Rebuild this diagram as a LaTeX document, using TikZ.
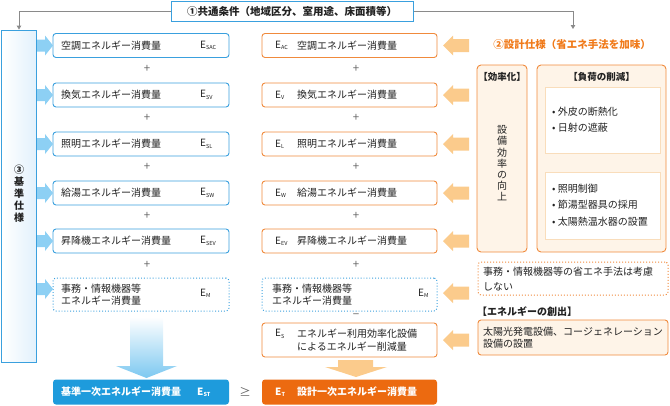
\documentclass[tikz,border=0pt]{standalone}
\usepackage{fontspec}
\setmainfont{Noto Sans CJK JP}
\usetikzlibrary{arrows.meta}
\definecolor{bblue}{HTML}{3AA0DE}
\definecolor{barrow}{HTML}{8DD0F4}
\definecolor{bdark}{HTML}{1E9BDC}
\definecolor{bpale}{HTML}{E2F1FC}
\definecolor{oline}{HTML}{F08A3C}
\definecolor{oarrow}{HTML}{FBCB8C}
\definecolor{odark}{HTML}{EC6A10}
\definecolor{otext}{HTML}{F07A1A}
\definecolor{cream}{HTML}{FEF4E8}
\definecolor{innerline}{HTML}{F9DDBB}
\definecolor{gline}{HTML}{8A8A8A}
\definecolor{txtc}{HTML}{222222}
\definecolor{plusc}{HTML}{666666}
\newcommand\esub[1]{E{\fontsize{5.5}{6}\selectfont\raisebox{-1.3pt}{#1}}}
\begin{document}
\begin{tikzpicture}[x=1pt,y=-1pt,
  font=\fontsize{10}{12}\selectfont, text=txtc,
  bbox/.style={draw=bblue, line width=0.9pt, fill=white, rounded corners=3pt, minimum width=176pt, minimum height=24pt, inner sep=0pt},
  obox/.style={draw=oline, line width=0.9pt, fill=white, rounded corners=3pt, minimum width=175pt, minimum height=24pt, inner sep=0pt},
  txt/.style={anchor=west, inner sep=0pt},
  plus/.style={text=plusc, font=\fontsize{11.5}{12}\selectfont, inner sep=0pt},
  hdr/.style={font=\fontsize{9.5}{11}\selectfont\bfseries, inner sep=0pt},
  barrowpic/.pic={\fill[barrow] (0,-6) -- (8,-6) -- (8,-10) -- (16,0) -- (8,10) -- (8,6) -- (0,6) -- cycle;},
  oarrowpic/.pic={\fill[oarrow] (0,0) -- (10,-10) -- (10,-6.5) -- (26,-6.5) -- (26,6.5) -- (10,6.5) -- (10,10) -- cycle;}
]
\useasboundingbox (0,0) rectangle (670,405);

% top common-condition box
\node[draw=bblue, line width=1pt, fill=white, minimum width=242pt, minimum height=20pt, inner sep=0pt,
      font=\fontsize{10.5}{12}\selectfont\bfseries] (top) at (292,11) {①共通条件（地域区分、室用途、床面積等）};

% left standard-spec box
\node[draw=bblue, line width=0.9pt, left color=white, right color=bpale, minimum width=34.5pt, minimum height=332pt, inner sep=0pt] (S) at (19,196) {};
\node[align=center, font=\fontsize{10}{12}\selectfont\bfseries, inner sep=0pt] (St) at (19,194) {③\\基\\準\\仕\\様};

% connectors from top box
\coordinate (rt) at (573,29);
\draw[gline, line width=0.9pt, -{Triangle[length=4pt,width=4.5pt]}] (top.west) -| (S.north);
\draw[gline, line width=0.9pt, -{Triangle[length=4pt,width=4.5pt]}] (top.east) -| (rt);

% rows
\foreach \i/\y/\nm/\ls/\ms in {1/45.5/空調/SAC/AC, 2/95/換気/SV/V, 3/144/照明/SL/L, 4/193/給湯/SW/W, 5/241/昇降機/SEV/EV}{
  \node[bbox] (L\i) at (141,\y) {};
  \node[txt] (L\i t) at (61,\y) {\nm エネルギー消費量};
  \node[txt] (L\i e) at (200,\y) {\esub{\ls}};
  \node[obox] (M\i) at (349.5,\y) {};
  \node[txt] (M\i e) at (275,\y) {\esub{\ms}};
  \node[txt] (M\i t) at (297,\y) {\nm エネルギー消費量};
  \pic at (37,\y) {barrowpic};
  \pic at (443,\y) {oarrowpic};
}
\foreach \i/\y in {1/69,2/118,3/167,4/216,5/265}{
  \node[plus] (pl\i) at (147,\y) {+};
  \node[plus] (pm\i) at (356,\y) {+};
}
\node[plus] (mi) at (356,316) {−};

% office equipment (dotted)
\node[bbox, dotted, line width=1pt, minimum height=33pt] (L6) at (141,294.5) {};
\node[txt, align=left, font=\fontsize{10}{12}\selectfont] (L6t) at (61,294.5) {事務・情報機器等\\エネルギー消費量};
\node[txt] (L6e) at (200,293.5) {\esub{M}};
\node[bbox, dotted, line width=1pt, minimum width=175pt, minimum height=33pt] (M6) at (349.5,294.5) {};
\node[txt, align=left, font=\fontsize{10}{12}\selectfont] (M6t) at (272,294.5) {事務・情報機器等\\エネルギー消費量};
\node[txt] (M6e) at (418,293.5) {\esub{M}};
\pic at (37,289) {barrowpic};
\pic at (443,293) {oarrowpic};

% energy saving equipment
\node[obox, minimum height=34pt] (M7) at (349.5,340) {};
\node[txt] (M7e) at (275,334) {\esub{S}};
\node[txt, align=left, font=\fontsize{10}{13}\selectfont] (M7t) at (297,340.5) {エネルギー利用効率化設備\\によるエネルギー削減量};
\pic at (443,340) {oarrowpic};

% big arrows
\shade[top color=white, bottom color=barrow!85!bdark] (130,317) -- (163,317) -- (163,366) -- (177,366) -- (146.5,378) -- (116,366) -- (130,366) -- cycle;
\fill[oarrow] (338,360) -- (373,360) -- (373,367) -- (387,367) -- (356,377) -- (325,367) -- (338,367) -- cycle;

% totals
\node[fill=bdark, rounded corners=3pt, minimum width=176pt, minimum height=25pt, inner sep=0pt] (LT) at (141,392) {};
\node[txt, text=white, font=\fontsize{10}{12}\selectfont\bfseries] (LTt) at (61,392) {基準一次エネルギー消費量};
\node[txt, text=white, font=\fontsize{10}{12}\selectfont\bfseries] (LTe) at (197,392) {\esub{ST}};
\node[fill=odark, rounded corners=3pt, minimum width=175pt, minimum height=25pt, inner sep=0pt] (MT) at (349.5,392) {};
\node[txt, text=white, font=\fontsize{10}{12}\selectfont\bfseries] (MTe) at (275,392) {\esub{T}};
\node[txt, text=white, font=\fontsize{10}{12}\selectfont\bfseries] (MTt) at (297,392) {設計一次エネルギー消費量};
\node[text=plusc, font=\fontsize{11.5}{12}\selectfont, inner sep=0pt] (ge) at (245,392) {≥};

% design spec title
\node[text=otext, font=\fontsize{10.5}{12}\selectfont\bfseries, inner sep=0pt] (D) at (572,45) {②設計仕様（省エネ手法を加味）};

% efficiency box
\node[draw=oline, line width=0.9pt, fill=cream, rounded corners=4pt, minimum width=50pt, minimum height=187pt, inner sep=0pt] (K) at (502,158.5) {};
\node[hdr] (Kh) at (502,77) {【効率化】};
\node[align=center, font=\fontsize{10}{11.2}\selectfont, inner sep=0pt] (Kv) at (502,163.5) {設\\備\\効\\率\\の\\向\\上};

% load reduction box
\node[draw=oline, line width=0.9pt, fill=cream, rounded corners=4pt, minimum width=129pt, minimum height=187pt, inner sep=0pt] (F) at (601.5,158.5) {};
\node[hdr] (Fh) at (601.5,77) {【負荷の削減】};
\node[draw=innerline, line width=0.8pt, fill=white, minimum width=115pt, minimum height=66pt, inner sep=0pt] (I1) at (602.5,120) {};
\node[draw=innerline, line width=0.8pt, fill=white, minimum width=115pt, minimum height=67pt, inner sep=0pt] (I2) at (602.5,205.5) {};
\node[txt] (a1) at (552,112) {• 外皮の断熱化};
\node[txt] (a2) at (552,127.5) {• 日射の遮蔽};
\node[txt] (a3) at (552,188.5) {• 照明制御};
\node[txt] (a4) at (552,205) {• 節湯型器具の採用};
\node[txt] (a5) at (552,221.5) {• 太陽熱温水器の設置};

% office note
\node[draw=oline, dotted, line width=1pt, fill=white, rounded corners=3pt, minimum width=190pt, minimum height=33pt, inner sep=0pt] (N) at (573,278.5) {};
\node[txt, align=left, font=\fontsize{10}{15}\selectfont] (Nt) at (483,279.5) {事務・情報機器等の省エネ手法は考慮\\しない};

% energy creation
\node[txt, font=\fontsize{10}{12}\selectfont\bfseries] (C) at (477,312) {【エネルギーの創出】};
\node[draw=oline, line width=0.9pt, fill=cream, rounded corners=3pt, minimum width=190pt, minimum height=35pt, inner sep=0pt] (CB) at (573,337.5) {};
\node[txt, align=left, font=\fontsize{10}{11.7}\selectfont] (CBt) at (483,338) {太陽光発電設備、コージェネレーション\\設備の設置};
\end{tikzpicture}
\end{document}
